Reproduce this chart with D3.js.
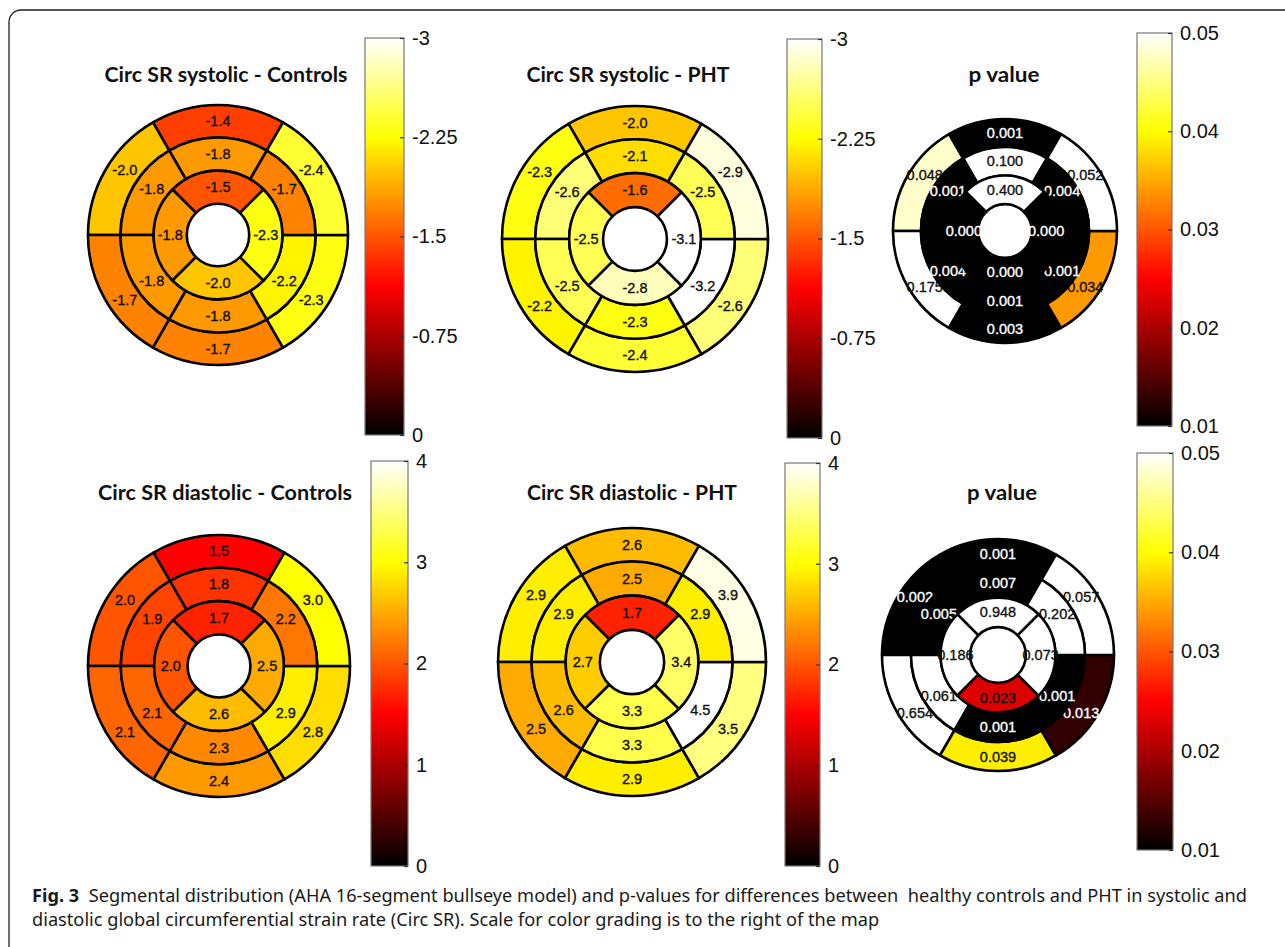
<!DOCTYPE html>
<html>
<head>
<meta charset="utf-8">
<script src="https://cdn.jsdelivr.net/npm/d3@7"></script>
<style>
  body { margin: 0; background: #fff; }
  svg { display: block; }
</style>
</head>
<body>
<svg id="fig" width="1285" height="947"></svg>
<script>
// AHA 16 segments: 1-6 basal, 7-12 mid, 13-16 apical
// basal / mid order: anterior, anteroseptal, inferoseptal, inferior, inferolateral, anterolateral
// apical order: anterior, septal, inferior, lateral
var sysControls = [-1.4, -2.0, -1.7, -1.7, -2.3, -2.4,
                   -1.8, -1.8, -1.8, -1.8, -2.2, -1.7,
                   -1.5, -1.8, -2.0, -2.3];
var sysPHT      = [-2.0, -2.3, -2.2, -2.4, -2.6, -2.9,
                   -2.1, -2.6, -2.5, -2.3, -3.2, -2.5,
                   -1.6, -2.5, -2.8, -3.1];
var sysP        = [0.001, 0.048, 0.175, 0.003, 0.034, 0.052,
                   0.100, 0.001, 0.004, 0.001, 0.001, 0.004,
                   0.400, 0.000, 0.000, 0.000];
var diaControls = [1.5, 2.0, 2.1, 2.4, 2.8, 3.0,
                   1.8, 1.9, 2.1, 2.3, 2.9, 2.2,
                   1.7, 2.0, 2.6, 2.5];
var diaPHT      = [2.6, 2.9, 2.5, 2.9, 3.5, 3.9,
                   2.5, 2.9, 2.6, 3.3, 4.5, 2.9,
                   1.7, 2.7, 3.3, 3.4];
var diaP        = [0.001, 0.002, 0.654, 0.039, 0.013, 0.057,
                   0.007, 0.005, 0.061, 0.001, 0.001, 0.202,
                   0.948, 0.186, 0.023, 0.073];

var sysTicks = [-3, -2.25, -1.5, -0.75, 0];
var diaTicks = [4, 3, 2, 1, 0];
var pTicks   = [0.05, 0.04, 0.03, 0.02, 0.01];

var titles = ["Circ SR systolic - Controls", "Circ SR systolic - PHT", "p value",
              "Circ SR diastolic - Controls", "Circ SR diastolic - PHT", "p value"];

var captionBold = "Fig. 3";
var captionLine1 = "  Segmental distribution (AHA 16-segment bullseye model) and p-values for differences between  healthy controls and PHT in systolic and";
var captionLine2 = "diastolic global circumferential strain rate (Circ SR). Scale for color grading is to the right of the map";

// MATLAB style "hot" colormap
function hot(t) {
    t = Math.max(0, Math.min(1, t));
    var r = Math.min(1, t / 0.375),
        g = Math.max(0, Math.min(1, (t - 0.375) / 0.375)),
        b = Math.max(0, (t - 0.75) / 0.25);
    return d3.rgb(r * 255, g * 255, b * 255).toString();
}

var svg = d3.select("#fig");

// frame round the figure
svg.append("rect")
    .attr("x", 9).attr("y", 10)
    .attr("width", 1300).attr("height", 960)
    .attr("rx", 12)
    .attr("fill", "none")
    .attr("stroke", "#222")
    .attr("stroke-width", 1.3);

var panels = [
    { values: sysControls, domain: [0, -3], ticks: sysTicks, fmt: function (v) { return v.toFixed(1); },
      cx: 218, cy: 235, R: 130, tx: 226, ty: 82, tw: 243, cbx: 365, cbw: 39, cby0: 38, cby1: 435, p: false },
    { values: sysPHT, domain: [0, -3], ticks: sysTicks, fmt: function (v) { return v.toFixed(1); },
      cx: 635, cy: 239, R: 133, tx: 628, ty: 82, tw: 203, cbx: 787, cbw: 35, cby0: 39, cby1: 438, p: false },
    { values: sysP, domain: [0.01, 0.05], ticks: pTicks, fmt: function (v) { return v.toFixed(3); },
      cx: 1005, cy: 231, R: 112, tx: 1004, ty: 82, tw: 71, cbx: 1137, cbw: 35, cby0: 33, cby1: 426, p: true },
    { values: diaControls, domain: [0, 4], ticks: diaTicks, fmt: function (v) { return v.toFixed(1); },
      cx: 219, cy: 666, R: 131, tx: 225, ty: 500, tw: 254, cbx: 371, cbw: 37, cby0: 461, cby1: 866, p: false },
    { values: diaPHT, domain: [0, 4], ticks: diaTicks, fmt: function (v) { return v.toFixed(1); },
      cx: 632, cy: 662, R: 134, tx: 632, ty: 500, tw: 210, cbx: 785, cbw: 35, cby0: 463, cby1: 866, p: false },
    { values: diaP, domain: [0.01, 0.05], ticks: pTicks, fmt: function (v) { return v.toFixed(3); },
      cx: 998, cy: 655, R: 116, tx: 1002, ty: 500, tw: 70, cbx: 1137, cbw: 36, cby0: 453, cby1: 850, p: true }
];

// rings, outer to inner, as fractions of the outer radius
var rings = [
    { n: 6, first: 0,  r0: 0.75,  r1: 1 },
    { n: 6, first: 6,  r0: 0.495, r1: 0.75 },
    { n: 4, first: 12, r0: 0.24,  r1: 0.495 }
];
var nudge = 5 * Math.PI / 180; // side labels sit a little nearer the vertical axis

var defs = svg.append("defs");
var gradId = "hotgrad";
var grad = defs.append("linearGradient")
    .attr("id", gradId)
    .attr("x1", 0).attr("y1", 1).attr("x2", 0).attr("y2", 0);
grad.selectAll("stop")
    .data(d3.range(0, 1.0001, 0.025))
    .enter().append("stop")
    .attr("offset", function (t) { return t; })
    .attr("stop-color", function (t) { return hot(t); });

panels.forEach(function (p, k) {
    var color = d3.scaleSequential(hot).domain(p.domain);
    var g = svg.append("g").attr("transform", "translate(" + p.cx + "," + p.cy + ")");

    // title
    svg.append("text")
        .attr("x", p.tx).attr("y", p.ty)
        .attr("text-anchor", "middle")
        .attr("textLength", p.tw)
        .attr("lengthAdjust", "spacingAndGlyphs")
        .style("font-family", "Lato, 'Open Sans', sans-serif")
        .style("font-weight", "bold")
        .style("font-size", "21px")
        .style("fill", "#111")
        .text(titles[k]);

    // bullseye, ring by ring so that inner fills cover spilled labels
    rings.forEach(function (ring) {
        var step = 2 * Math.PI / ring.n;
        var segs = d3.range(ring.n).map(function (i) {
            var v = p.values[ring.first + i];
            var c = -i * step;
            var a = Math.atan2(Math.sin(c), Math.cos(c));
            var la = a;
            if (ring.n == 6 && i % 3 != 0) {
                la = Math.cos(a) > 0 ? a - Math.sign(a) * nudge : a + Math.sign(a) * nudge;
            }
            return { v: v, start: c - step / 2, end: c + step / 2, la: la };
        });
        var arc = d3.arc()
            .innerRadius(ring.r0 * p.R)
            .outerRadius(ring.r1 * p.R)
            .startAngle(function (d) { return d.start; })
            .endAngle(function (d) { return d.end; });
        var rl = (ring.r0 + ring.r1) / 2 * p.R;

        g.append("g").selectAll("path")
            .data(segs)
            .enter().append("path")
            .attr("d", arc)
            .attr("fill", function (d) { return color(d.v); })
            .attr("stroke", "#000")
            .attr("stroke-width", 2.6)
            .attr("stroke-linejoin", "round");

        g.append("g").selectAll("text")
            .data(segs)
            .enter().append("text")
            .attr("x", function (d) { return rl * Math.sin(d.la); })
            .attr("y", function (d) { return -rl * Math.cos(d.la); })
            .attr("text-anchor", "middle")
            .attr("dominant-baseline", "central")
            .style("font-family", "'Liberation Sans', Arial, sans-serif")
            .style("font-size", "14.5px")
            .style("stroke-width", 0.35)
            .each(function (d) {
                var c = "#111";
                if (p.p) {
                    var t = (d.v - p.domain[0]) / (p.domain[1] - p.domain[0]);
                    c = t < 0.2 ? "#fff" : "#111";
                }
                d3.select(this).style("fill", c).style("stroke", c);
            })
            .text(function (d) { return p.fmt(d.v); });
    });

    // colorbar
    var y = d3.scaleLinear()
        .domain([p.ticks[0], p.ticks[p.ticks.length - 1]])
        .range([p.cby0, p.cby1]);

    svg.append("rect")
        .attr("x", p.cbx).attr("y", p.cby0)
        .attr("width", p.cbw).attr("height", p.cby1 - p.cby0)
        .attr("fill", "url(#" + gradId + ")")
        .attr("stroke", "#777")
        .attr("stroke-width", 1.2);

    var ax = svg.append("g")
        .attr("transform", "translate(" + (p.cbx + p.cbw) + ",0)")
        .call(d3.axisRight(y)
            .tickValues(p.ticks)
            .tickSize(-4)
            .tickPadding(8)
            .tickFormat(function (d) { return k % 3 == 2 ? d3.format(".2f")(d) : String(d); }));
    ax.select(".domain").remove();
    ax.selectAll(".tick line").attr("stroke", "#333").attr("stroke-width", 1.2);
    ax.selectAll("text")
        .style("font-family", "'Liberation Sans', Arial, sans-serif")
        .style("font-size", "20px")
        .style("fill", "#111");
});

// caption
var cap1 = svg.append("text")
    .attr("x", 32).attr("y", 902)
    .style("font-family", "'Noto Sans', 'Open Sans', sans-serif")
    .style("font-size", "18px")
    .style("white-space", "pre")
    .style("fill", "#1a1a1a");
cap1.append("tspan").style("font-weight", "bold").text(captionBold);
cap1.append("tspan").text(captionLine1);

var cap2 = svg.append("text")
    .attr("x", 32).attr("y", 926)
    .style("font-family", "'Noto Sans', 'Open Sans', sans-serif")
    .style("font-size", "18px")
    .style("white-space", "pre")
    .style("fill", "#1a1a1a")
    .text(captionLine2);

var squeeze = 1215 / cap1.node().getComputedTextLength();
cap1.attr("textLength", 1215).attr("lengthAdjust", "spacingAndGlyphs");
cap2.attr("textLength", cap2.node().getComputedTextLength() * squeeze).attr("lengthAdjust", "spacingAndGlyphs");
</script>
</body>
</html>
